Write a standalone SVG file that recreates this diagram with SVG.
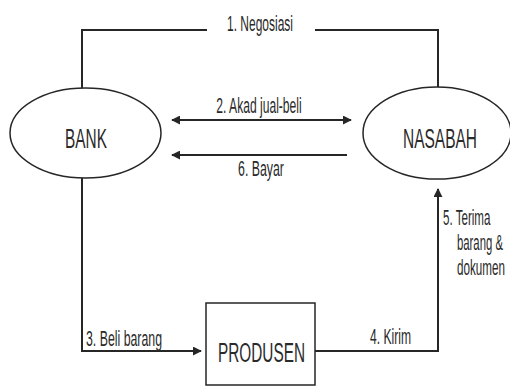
<svg xmlns="http://www.w3.org/2000/svg" width="510" height="386" viewBox="0 0 510 386">
<style>
.ln{fill:none;stroke:#262626;stroke-width:2}
.nd{fill:#fff;stroke:#262626;stroke-width:1.5}
.t{font-family:"Liberation Sans",Arial,sans-serif;fill:#2a2a2a}
.s{font-size:22px}
.b{font-size:28px}
.m{text-anchor:middle}
</style>
<defs>
<marker id="ah" viewBox="0 0 10 10" refX="9" refY="5" markerWidth="4.5" markerHeight="4.5" orient="auto-start-reverse" markerUnits="strokeWidth">
<path d="M0,0 L10,5 L0,10 z" fill="#262626"/>
</marker>
</defs>
<rect width="510" height="386" fill="#fff"/>
<g id="connectors">
<polyline class="ln" points="207,30 82,30 82,89"/>
<polyline class="ln" points="315,30 438,30 438,87"/>
<line class="ln" x1="172" y1="120" x2="351" y2="120" stroke="#3a3a3a" stroke-width="2.5" marker-start="url(#ah)" marker-end="url(#ah)"/>
<line class="ln" x1="347" y1="155" x2="172" y2="155" stroke-width="2.5" marker-end="url(#ah)"/>
<polyline class="ln" points="82,178 82,351 201,351" marker-end="url(#ah)"/>
<polyline class="ln" points="315,351 438,351 438,189" marker-end="url(#ah)"/>
<text class="t s m" transform="translate(260,31) scale(0.545,1)">1. Negosiasi</text>
<text class="t s m" transform="translate(259,113) scale(0.55,1)">2. Akad jual-beli</text>
<text class="t s m" transform="translate(261,176) scale(0.56,1)">6. Bayar</text>
<text class="t s m" transform="translate(124,346) scale(0.56,1)">3. Beli barang</text>
<text class="t s m" transform="translate(390.5,344) scale(0.55,1)">4. Kirim</text>
<text class="t s" transform="translate(443,225) scale(0.527,1)">5. Terima</text>
<text class="t s" transform="translate(457,250) scale(0.515,1)">barang &amp;</text>
<text class="t s" transform="translate(457,275) scale(0.53,1)">dokumen</text>
</g>
<g id="bank">
<ellipse class="nd" cx="85.5" cy="133" rx="75.5" ry="45"/>
<text class="t b m" transform="translate(86,148) scale(0.55,1)">BANK</text>
</g>
<g id="nasabah">
<ellipse class="nd" cx="437" cy="133" rx="74" ry="46"/>
<text class="t b m" transform="translate(440,148) scale(0.553,1)">NASABAH</text>
</g>
<g id="produsen">
<rect class="nd" x="206" y="303" width="109" height="82"/>
<text class="t b m" transform="translate(261.5,362) scale(0.548,1)">PRODUSEN</text>
</g>
</svg>
